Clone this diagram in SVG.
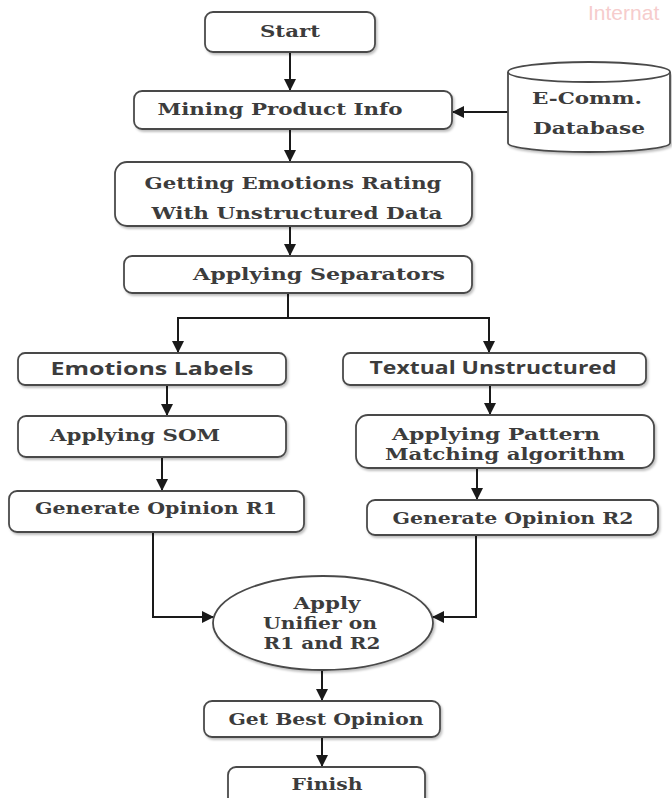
<svg xmlns="http://www.w3.org/2000/svg" width="672" height="798" viewBox="0 0 672 798">
<defs>
<style>
.box{fill:#ffffff;stroke:#4a4a4a;stroke-width:1.8;filter:url(#sh)}
.t{font-family:"DejaVu Serif","Liberation Serif",serif;font-weight:bold;font-size:17px;fill:#3c3c3c;text-anchor:middle}
.s{font-family:"Open Sans","Liberation Sans",sans-serif;font-weight:bold;font-size:17px;fill:#3c3c3c;text-anchor:middle}
.c{fill:none;stroke:#1a1a1a;stroke-width:2}
.wm{font-family:"Liberation Sans",sans-serif;font-size:21px;fill:#f6cccc}
</style>
<filter id="sh" x="-5%" y="-10%" width="115%" height="130%">
<feDropShadow dx="1.5" dy="2" stdDeviation="1.2" flood-color="#000" flood-opacity="0.25"/>
</filter>
<marker id="ah" markerUnits="userSpaceOnUse" markerWidth="12" markerHeight="12" viewBox="0 0 12 12" refX="11" refY="6" orient="auto">
<path d="M0,0 L12,6 L0,12 z" fill="#1a1a1a"/>
</marker>
</defs>
<rect width="672" height="798" fill="#ffffff"/>
<text class="wm" x="588" y="20">Internat</text>

<g id="connectors">
<path class="c" d="M290,52 V90" marker-end="url(#ah)"/>
<path class="c" d="M508,112 H453" marker-end="url(#ah)"/>
<path class="c" d="M290,129 V161" marker-end="url(#ah)"/>
<path class="c" d="M290,226 V255" marker-end="url(#ah)"/>
<path class="c" d="M288,293 V318"/>
<path class="c" d="M177,318 H490"/>
<path class="c" d="M178,318 V352" marker-end="url(#ah)"/>
<path class="c" d="M489,318 V352" marker-end="url(#ah)"/>
<path class="c" d="M167,385 V415" marker-end="url(#ah)"/>
<path class="c" d="M162,457 V490" marker-end="url(#ah)"/>
<path class="c" d="M490,385 V414" marker-end="url(#ah)"/>
<path class="c" d="M477,468 V499" marker-end="url(#ah)"/>
<path class="c" d="M153,532 V617 H213" marker-end="url(#ah)"/>
<path class="c" d="M476,535 V617 H433" marker-end="url(#ah)"/>
<path class="c" d="M322,670 V700" marker-end="url(#ah)"/>
<path class="c" d="M322,737 V766" marker-end="url(#ah)"/>
</g>

<g id="start">
<rect class="box" x="205" y="12" width="170" height="40" rx="8"/>
<text class="t" x="290" y="37" textLength="60" lengthAdjust="spacingAndGlyphs">Start</text>
</g>
<g id="mining">
<rect class="box" x="134" y="91" width="318" height="38" rx="8"/>
<text class="t" x="280" y="115" textLength="245" lengthAdjust="spacingAndGlyphs">Mining Product Info</text>
</g>
<g id="database">
<path class="box" d="M508,72 V143 A81,9 0 0 0 670,143 V72"/>
<ellipse cx="589" cy="72" rx="81" ry="10" fill="#ffffff" stroke="#4a4a4a" stroke-width="1.8"/>
<text class="t" x="587" y="104" textLength="110" lengthAdjust="spacingAndGlyphs">E-Comm.</text>
<text class="t" x="589" y="134" textLength="112" lengthAdjust="spacingAndGlyphs">Database</text>
</g>
<g id="getting">
<rect class="box" x="115" y="162" width="357" height="64" rx="12"/>
<text class="t" x="293" y="189" textLength="297" lengthAdjust="spacingAndGlyphs">Getting Emotions Rating</text>
<text class="t" x="297" y="219" textLength="291" lengthAdjust="spacingAndGlyphs">With Unstructured Data</text>
</g>
<g id="separators">
<rect class="box" x="124" y="256" width="348" height="37" rx="8"/>
<text class="t" x="319" y="280" textLength="252" lengthAdjust="spacingAndGlyphs">Applying Separators</text>
</g>
<g id="emotions-labels">
<rect class="box" x="18" y="353" width="268" height="32" rx="7"/>
<text class="s" x="152" y="375" textLength="203" lengthAdjust="spacingAndGlyphs">Emotions Labels</text>
</g>
<g id="textual">
<rect class="box" x="343" y="353" width="303" height="32" rx="7"/>
<text class="s" x="493" y="374" textLength="247" lengthAdjust="spacingAndGlyphs">Textual Unstructured</text>
</g>
<g id="som">
<rect class="box" x="18" y="416" width="268" height="41" rx="8"/>
<text class="t" x="135" y="441" textLength="170" lengthAdjust="spacingAndGlyphs">Applying SOM</text>
</g>
<g id="pattern">
<rect class="box" x="356" y="415" width="298" height="53" rx="12"/>
<text class="t" x="496" y="440" textLength="208" lengthAdjust="spacingAndGlyphs">Applying Pattern</text>
<text class="t" x="505" y="460" textLength="240" lengthAdjust="spacingAndGlyphs">Matching algorithm</text>
</g>
<g id="r1">
<rect class="box" x="9" y="491" width="295" height="41" rx="8"/>
<text class="t" x="156" y="514" textLength="242" lengthAdjust="spacingAndGlyphs">Generate Opinion R1</text>
</g>
<g id="r2">
<rect class="box" x="367" y="500" width="291" height="35" rx="8"/>
<text class="t" x="513" y="524" textLength="241" lengthAdjust="spacingAndGlyphs">Generate Opinion R2</text>
</g>
<g id="unifier">
<ellipse class="box" cx="323" cy="623" rx="110" ry="47"/>
<text class="t" x="327" y="609" textLength="67" lengthAdjust="spacingAndGlyphs">Apply</text>
<text class="t" x="320" y="629" textLength="114" lengthAdjust="spacingAndGlyphs">Unifier on</text>
<text class="t" x="322" y="649" textLength="117" lengthAdjust="spacingAndGlyphs">R1 and R2</text>
</g>
<g id="best">
<rect class="box" x="204" y="701" width="236" height="36" rx="8"/>
<text class="t" x="326" y="725" textLength="195" lengthAdjust="spacingAndGlyphs">Get Best Opinion</text>
</g>
<g id="finish">
<rect class="box" x="228" y="767" width="197" height="44" rx="8"/>
<text class="t" x="327" y="790" textLength="71" lengthAdjust="spacingAndGlyphs">Finish</text>
</g>
</svg>
